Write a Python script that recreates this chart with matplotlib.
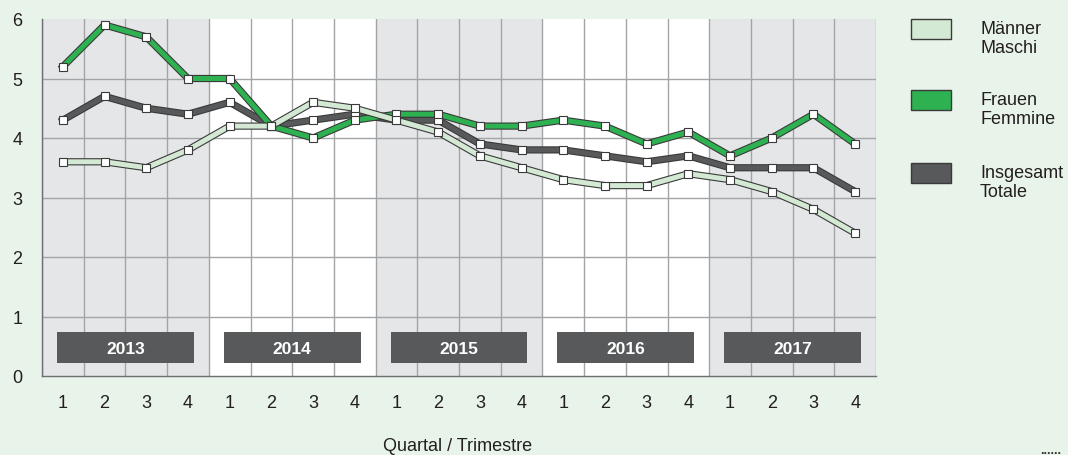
import matplotlib
matplotlib.use("Agg")
import matplotlib.pyplot as plt
import matplotlib.patheffects as pe
from matplotlib.patches import Rectangle

plt.rcParams['font.family'] = ['Liberation Sans', 'DejaVu Sans']

years = ["2013", "2014", "2015", "2016", "2017"]
quarters = ["1", "2", "3", "4"]
maenner = [3.6, 3.6, 3.5, 3.8, 4.2, 4.2, 4.6, 4.5, 4.3, 4.1, 3.7, 3.5, 3.3, 3.2, 3.2, 3.4, 3.3, 3.1, 2.8, 2.4]
frauen = [5.2, 5.9, 5.7, 5.0, 5.0, 4.2, 4.0, 4.3, 4.4, 4.4, 4.2, 4.2, 4.3, 4.2, 3.9, 4.1, 3.7, 4.0, 4.4, 3.9]
insgesamt = [4.3, 4.7, 4.5, 4.4, 4.6, 4.2, 4.3, 4.4, 4.3, 4.3, 3.9, 3.8, 3.8, 3.7, 3.6, 3.7, 3.5, 3.5, 3.5, 3.1]
series_labels = ["Männer\nMaschi", "Frauen\nFemmine", "Insgesamt\nTotale"]

bg = '#e8f3e9'
c_m = '#d3e9d4'
c_f = '#2db151'
c_t = '#58595b'
edge = '#3a3a3a'
txt = '#231f20'

fig = plt.figure(figsize=(10.68, 4.56), dpi=100, facecolor=bg)
ax = fig.add_axes([42/1068, 1-377/456, (876-42)/1068, (377-20)/456])
ax.set_facecolor('white')

n = len(maenner)
x = list(range(n))
ax.set_xlim(-0.5, n - 0.5)
ax.set_ylim(0, 6)

# year bands and labels
for i, yr in enumerate(years):
    if i % 2 == 0:
        ax.add_patch(Rectangle((i*4 - 0.5, 0), 4, 6, facecolor='#e5e6e8', edgecolor='none', zorder=0))
    ax.add_patch(Rectangle((i*4 - 0.5 + 0.36, 0.22), 4 - 0.72, 0.52, facecolor=c_t, edgecolor='none', zorder=3))
    ax.text(i*4 + 1.5, 0.47, yr, color='white', fontsize=12.5, fontweight='bold', ha='center', va='center', zorder=4)

# grid
for k in range(n + 1):
    ax.axvline(k - 0.5, color='#a3a4a6', lw=1, zorder=1)
for v in range(1, 6):
    ax.axhline(v, color='#a3a4a6', lw=1, zorder=1)

for vals, col, z in [(insgesamt, c_t, 5), (frauen, c_f, 6), (maenner, c_m, 7)]:
    ax.plot(x, vals, color=col, lw=3.6, zorder=z, solid_joinstyle='miter',
            path_effects=[pe.Stroke(linewidth=5.2, foreground=edge), pe.Normal()])
for vals in [insgesamt, frauen, maenner]:
    ax.plot(x, vals, ls='none', marker='s', ms=5.3, mfc='white', mec=edge, mew=0.8, zorder=8)

ax.set_yticks(range(0, 7))
ax.set_xticks(x)
ax.set_xticklabels(quarters * len(years))
ax.tick_params(axis='both', length=0, labelsize=13, colors=txt)
ax.tick_params(axis='x', pad=13)
ax.tick_params(axis='y', pad=14)

for s in ['top', 'right']:
    ax.spines[s].set_visible(False)
for s in ['left', 'bottom']:
    ax.spines[s].set_color('#6d6e70')
    ax.spines[s].set_linewidth(1)

fig.text(458/1068, 1-447/456, "Quartal / Trimestre", fontsize=13, ha='center', va='center', color=txt)

# legend
leg_y = [30, 101, 174]
for lab, col, yc in zip(series_labels, [c_m, c_f, c_t], leg_y):
    fig.patches.append(Rectangle((911/1068, 1-(yc+10)/456), 40/1068, 20/456, facecolor=col,
                                 edgecolor=edge, lw=1, transform=fig.transFigure, figure=fig))
    fig.text(980/1068, 1-(yc+9)/456, lab, fontsize=13, ha='left', va='center', color=txt, linespacing=1.2)

fig.text(1040/1068, 1-451/456, "......", fontsize=9, color='#333333', ha='left', va='center', fontweight='bold')

fig.savefig("out.png", dpi=100, facecolor=bg)
